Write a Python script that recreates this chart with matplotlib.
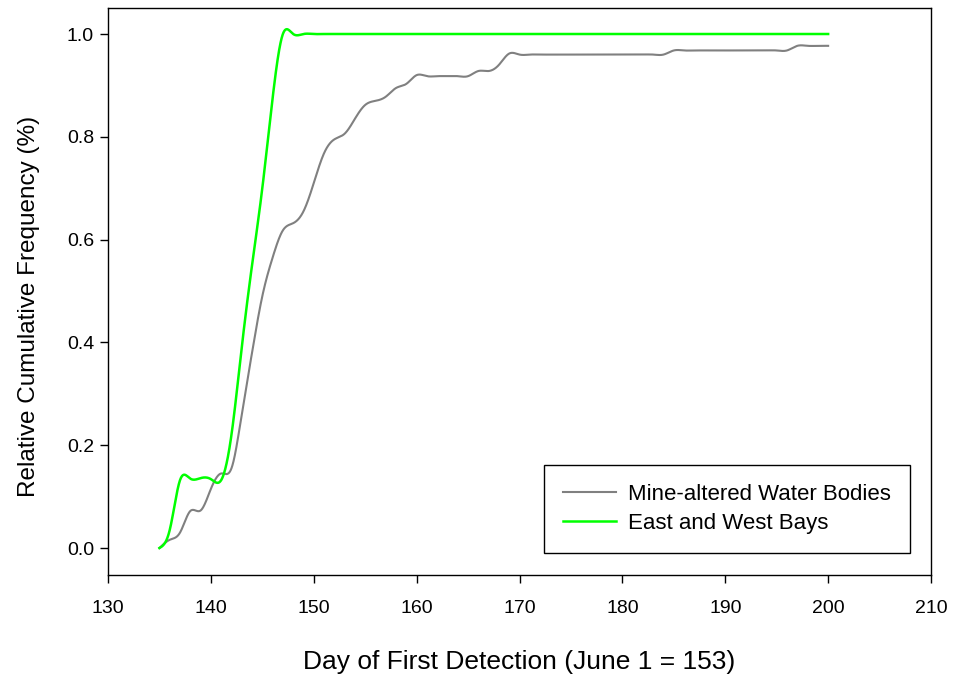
import numpy as np
import matplotlib
matplotlib.use("Agg")
import matplotlib.pyplot as plt

plt.rcParams['font.family'] = ['Liberation Sans', 'DejaVu Sans']

# Day of first detection (June 1 = 153)
days = [135, 136, 137, 138, 139, 140, 141, 142, 143, 144, 145, 146, 147, 148, 149,
        150, 151, 152, 153, 154, 155, 156, 157, 158, 159, 160, 161, 162, 163, 164,
        165, 166, 167, 168, 169, 170, 171, 172, 173, 174, 175, 176, 177, 178, 179,
        180, 181, 182, 183, 184, 185, 186, 187, 188, 189, 190, 191, 192, 193, 194,
        195, 196, 197, 198, 199, 200]

# Mine-altered water bodies
mine_freq = [0.000, 0.016, 0.030, 0.072, 0.073, 0.115, 0.145, 0.155, 0.260, 0.380,
             0.490, 0.565, 0.618, 0.632, 0.655, 0.710, 0.768, 0.795, 0.806, 0.835,
             0.862, 0.870, 0.878, 0.895, 0.903, 0.920, 0.918, 0.918, 0.918, 0.918,
             0.918, 0.928, 0.928, 0.940, 0.962, 0.960, 0.960, 0.960, 0.960, 0.960,
             0.960, 0.960, 0.960, 0.960, 0.960, 0.960, 0.960, 0.960, 0.960, 0.960,
             0.968, 0.968, 0.968, 0.968, 0.968, 0.968, 0.968, 0.968, 0.968, 0.968,
             0.968, 0.968, 0.977, 0.977, 0.977, 0.977]

# East and West Bays
bay_freq = [0.000, 0.035, 0.132, 0.135, 0.136, 0.134, 0.132, 0.220, 0.390, 0.550,
            0.700, 0.875, 1.000, 1.000, 1.000, 1.000, 1.000, 1.000, 1.000, 1.000,
            1.000, 1.000, 1.000, 1.000, 1.000, 1.000, 1.000, 1.000, 1.000, 1.000,
            1.000, 1.000, 1.000, 1.000, 1.000, 1.000, 1.000, 1.000, 1.000, 1.000,
            1.000, 1.000, 1.000, 1.000, 1.000, 1.000, 1.000, 1.000, 1.000, 1.000,
            1.000, 1.000, 1.000, 1.000, 1.000, 1.000, 1.000, 1.000, 1.000, 1.000,
            1.000, 1.000, 1.000, 1.000, 1.000, 1.000]

series_names = ["Mine-altered Water Bodies", "East and West Bays"]
x_ticks = [130, 140, 150, 160, 170, 180, 190, 200, 210]
y_ticks = [0.0, 0.2, 0.4, 0.6, 0.8, 1.0]


def natural_spline(x, y, xs):
    x = np.asarray(x, float)
    y = np.asarray(y, float)
    n = len(x)
    h = np.diff(x)
    A = np.zeros((n, n))
    b = np.zeros(n)
    A[0, 0] = 1.0
    A[-1, -1] = 1.0
    for i in range(1, n - 1):
        A[i, i - 1] = h[i - 1]
        A[i, i] = 2 * (h[i - 1] + h[i])
        A[i, i + 1] = h[i]
        b[i] = 6 * ((y[i + 1] - y[i]) / h[i] - (y[i] - y[i - 1]) / h[i - 1])
    M = np.linalg.solve(A, b)
    idx = np.clip(np.searchsorted(x, xs) - 1, 0, n - 2)
    x0, x1 = x[idx], x[idx + 1]
    hh = x1 - x0
    t0 = x1 - xs
    t1 = xs - x0
    return (M[idx] * t0 ** 3 / (6 * hh) + M[idx + 1] * t1 ** 3 / (6 * hh)
            + (y[idx] / hh - M[idx] * hh / 6) * t0
            + (y[idx + 1] / hh - M[idx + 1] * hh / 6) * t1)


fig = plt.figure(figsize=(9.54, 6.78), dpi=100)
ax = fig.add_axes([0.1132, 0.1519, 0.8627, 0.8363])

xs = np.linspace(days[0], days[-1], 3000)
ax.plot(xs, natural_spline(days, mine_freq, xs), color='#808080', lw=1.5,
        label=series_names[0])
ax.plot(xs, natural_spline(days, bay_freq, xs), color='#00ff00', lw=1.8,
        label=series_names[1])

ax.set_xlim(130, 210)
ax.set_ylim(-0.0525, 1.0506)
ax.set_xticks(x_ticks)
ax.set_yticks(y_ticks)
ax.set_yticklabels([f"{v:.1f}" for v in y_ticks])
ax.tick_params(direction='out', length=6, width=1, labelsize=14, colors='black')
ax.tick_params(axis='x', pad=12)
ax.tick_params(axis='y', pad=4)
for s in ax.spines.values():
    s.set_linewidth(1.0)
    s.set_color('black')

ax.set_xlabel("Day of First Detection (June 1 = 153)", fontsize=19, labelpad=24)
ax.set_ylabel("Relative Cumulative Frequency (%)", fontsize=17.5, labelpad=19)
ax.yaxis.label.set_y(0.473)

leg = ax.legend(loc='lower right', bbox_to_anchor=(0.9745, 0.0388), fontsize=16,
                frameon=True, fancybox=False, edgecolor='black', framealpha=1,
                handlelength=2.4, handletextpad=0.55, borderpad=0.85,
                labelspacing=0.38, borderaxespad=0)
leg.get_frame().set_linewidth(1.0)

fig.savefig("out.png", dpi=100)
